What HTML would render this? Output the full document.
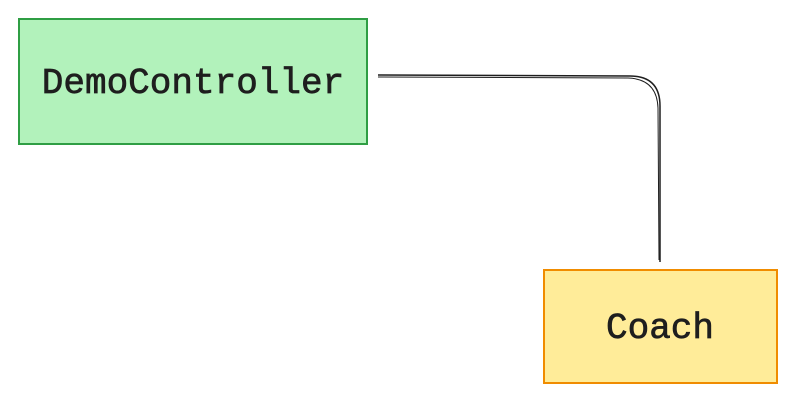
<!DOCTYPE html>
<html><head><style>
body{margin:0;background:#fff;width:796px;height:404px;overflow:hidden}
</style></head><body>
<svg width="796" height="404" xmlns="http://www.w3.org/2000/svg">
<rect x="19" y="19" width="348" height="125" fill="#b2f2bb" stroke="#2f9e44" stroke-width="2"/>
<text x="193" y="93" text-anchor="middle" font-family="Liberation Mono, monospace" font-size="36" fill="#1e1e1e" stroke="#1e1e1e" stroke-width="0.7">DemoController</text>
<rect x="544" y="270" width="233" height="113" fill="#ffec99" stroke="#f08c00" stroke-width="2"/>
<text x="660" y="338" text-anchor="middle" font-family="Liberation Mono, monospace" font-size="36" fill="#1e1e1e" stroke="#1e1e1e" stroke-width="0.7">Coach</text>
<path d="M378 75 L630 76 Q660 76 660 106 L660 262" fill="none" stroke="#1e1e1e" stroke-width="1.5"/>
<path d="M378 77 L628 78 Q657 79 658 108 L659 260" fill="none" stroke="#1e1e1e" stroke-width="1"/>
</svg>
</body></html>
